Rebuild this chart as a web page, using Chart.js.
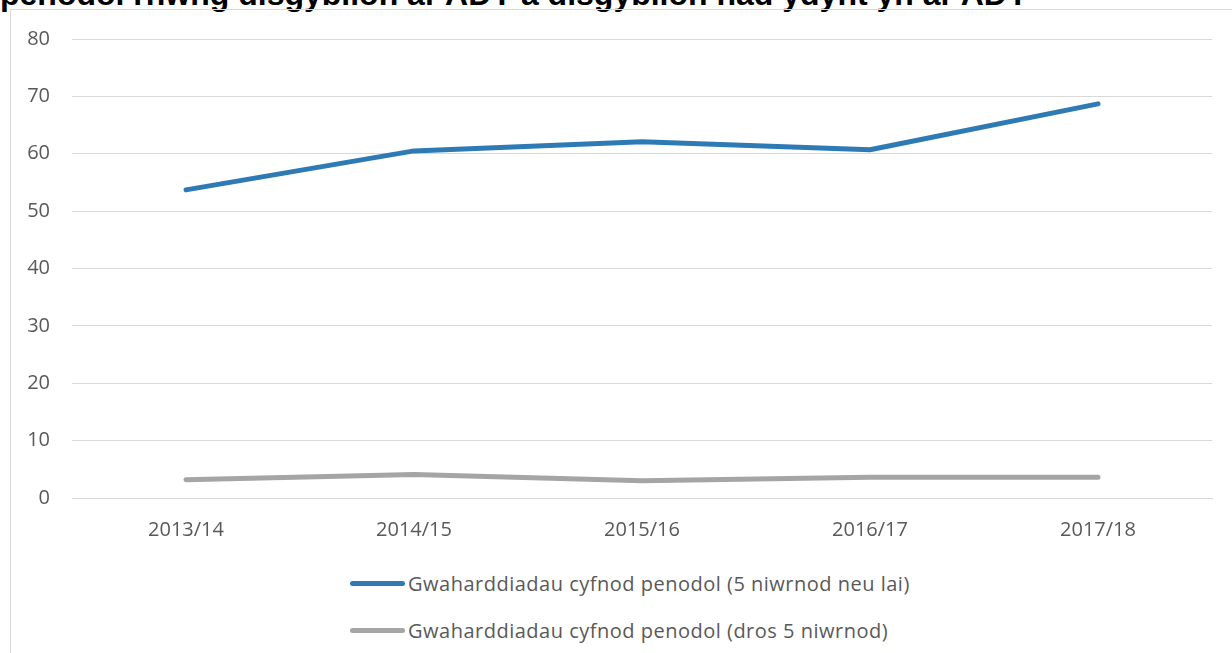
<!DOCTYPE html>
<html>
<head>
<meta charset="utf-8">
<script src="https://cdn.jsdelivr.net/npm/chart.js@4"></script>
<style>
    html, body { margin: 0; padding: 0; background: #fff; }
    body { width: 1232px; height: 653px; position: relative; overflow: hidden; }
    #title {
        position: absolute; left: 0; top: -24px; white-space: nowrap;
        font: bold 32px "Liberation Sans", Arial, sans-serif; color: #000;
    }
    #frame {
        position: absolute; left: 10px; top: 9px; width: 1240px; height: 660px;
        border-left: 1px solid #d9d9d9; border-top: 1px solid #d9d9d9;
    }
    #wrap { position: absolute; left: 10px; top: 5px; width: 1222px; height: 545px; }
    #legend { position: absolute; left: 350px; top: 560px; }
    .leg-item { display: flex; align-items: center; height: 47px;
        font: 20px "Open Sans", "Noto Sans", sans-serif; letter-spacing: 0.5px; color: #595959; }
    .leg-line { width: 55px; height: 5px; border-radius: 3px; margin-right: 3px; }
</style>
</head>
<body>
<div id="title">penodol rhwng disgyblion ar ADY a disgyblion nad ydynt yn ar ADY</div>
<div id="frame"></div>
<div id="wrap"><canvas id="lineChart"></canvas></div>
<div id="legend"></div>
<script>
// Data
const years = ['2013/14', '2014/15', '2015/16', '2016/17', '2017/18'];
const shortLabel = 'Gwaharddiadau cyfnod penodol (5 niwrnod neu lai)';
const longLabel = 'Gwaharddiadau cyfnod penodol (dros 5 niwrnod)';
const shortValues = [53.7, 60.5, 62.1, 60.7, 68.7];
const longValues = [3.2, 4.1, 3.0, 3.6, 3.6];

const blue = '#2E7AB5';
const grey = '#A5A5A5';
const tickFont = { family: '"Open Sans", "Noto Sans", sans-serif', size: 20 };

const ctx = document.getElementById('lineChart').getContext('2d');
const chart = new Chart(ctx, {
    type: 'line',
    data: {
        labels: years,
        datasets: [
            { label: shortLabel, data: shortValues, borderColor: blue, backgroundColor: blue,
              borderWidth: 5, pointRadius: 0, tension: 0, borderCapStyle: 'round', borderJoinStyle: 'round' },
            { label: longLabel, data: longValues, borderColor: grey, backgroundColor: grey,
              borderWidth: 5, pointRadius: 0, tension: 0, borderCapStyle: 'round', borderJoinStyle: 'round' }
        ]
    },
    options: {
        responsive: true,
        maintainAspectRatio: false,
        animation: false,
        layout: { padding: { top: 21, right: 20, bottom: 12, left: 0 } },
        plugins: { legend: { display: false }, tooltip: { enabled: false } },
        scales: {
            x: {
                offset: true,
                grid: { display: false },
                border: { color: '#d9d9d9' },
                ticks: { color: '#595959', font: tickFont, padding: 12, maxRotation: 0 },
                afterFit: s => { s.height = 40; }
            },
            y: {
                min: 0, max: 80,
                grid: { color: '#d9d9d9', drawTicks: false },
                border: { display: false },
                ticks: { stepSize: 10, color: '#595959', font: tickFont, padding: 22 },
                afterFit: s => { s.width = 62; }
            }
        }
    }
});

// HTML legend, one item per row
const legendBox = document.getElementById('legend');
chart.data.datasets.forEach(ds => {
    const item = document.createElement('div');
    item.className = 'leg-item';
    item.innerHTML = `<span class="leg-line" style="background:${ds.borderColor}"></span><span>${ds.label}</span>`;
    legendBox.appendChild(item);
});
</script>
</body>
</html>
